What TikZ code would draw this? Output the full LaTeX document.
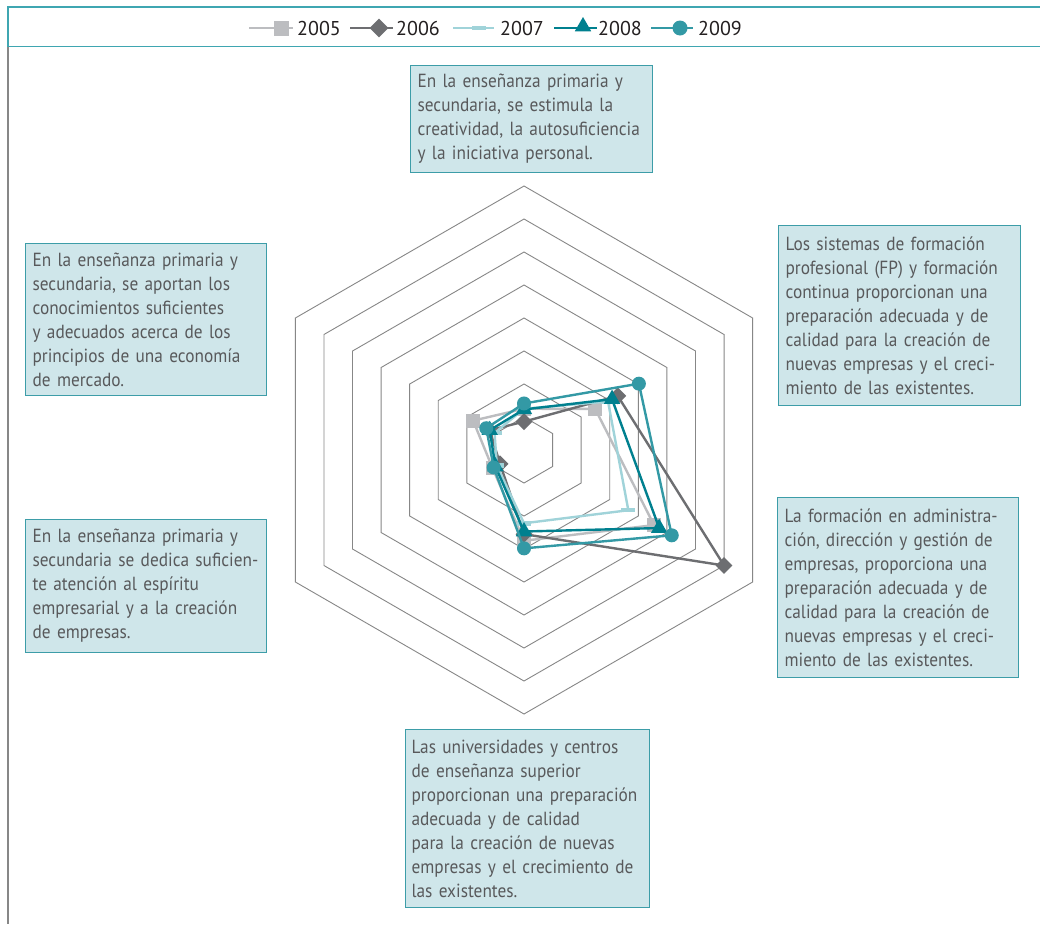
\documentclass[tikz,border=0pt]{standalone}
\usepackage{fontspec}
\setmainfont{PT Sans}
\newfontfamily\boxfam{PT Sans}[FakeStretch=0.91]
\usetikzlibrary{shapes.geometric,calc}
\definecolor{c05}{HTML}{BCBDC0}
\definecolor{c06}{HTML}{6D6E71}
\definecolor{c07}{HTML}{A0D3D9}
\definecolor{c08}{HTML}{00808F}
\definecolor{c09}{HTML}{3399A5}
\definecolor{framec}{HTML}{3FA6B1}
\definecolor{boxfill}{HTML}{CFE6EA}
\definecolor{boxline}{HTML}{3D9DA8}
\definecolor{txt}{HTML}{58595B}
\definecolor{legc}{HTML}{231F20}
\definecolor{gridc}{HTML}{878787}
\newcommand\boxfont{\boxfam\fontsize{19}{24}\selectfont\hyphenpenalty=10000\exhyphenpenalty=10000}
\newcommand\legfont{\fontsize{20}{24}\selectfont}
\newcommand\radarseries[4]{%
  \foreach \v [count=\i] in {#4} {
    \pgfmathsetmacro\ang{-150+60*\i}
    \pgfmathsetmacro\rad{\v*33}
    \coordinate (#1-\i) at ($(C)+(\ang:\rad)$);
  }
  \draw[ser, #2] (#1-1) -- (#1-2) -- (#1-3) -- (#1-4) -- (#1-5) -- (#1-6) -- cycle;
  \foreach \i in {1,...,6} { \node[#3] (#1-m\i) at (#1-\i) {}; }
}
\begin{document}
\begin{tikzpicture}[x=1pt,y=-1pt,
  gridline/.style={draw=gridc, line width=0.9pt},
  ser/.style={line width=2.4pt, line join=round},
  mk05/.style={rectangle, fill=c05, minimum size=14pt, inner sep=0pt},
  mk06/.style={diamond, fill=c06, minimum size=17pt, inner sep=0pt},
  mk07/.style={rectangle, fill=c07, minimum width=14pt, minimum height=4.5pt, inner sep=0pt},
  mk08/.style={regular polygon, regular polygon sides=3, fill=c08, minimum size=19pt, inner sep=0pt},
  mk09/.style={circle, fill=c09, minimum size=14pt, inner sep=0pt},
  infobox/.style={draw=boxline, fill=boxfill, line width=1.2pt, text=txt, align=left, anchor=north west, inner xsep=7pt, inner ysep=0pt, font=\boxfont},
  legtext/.style={anchor=west, text=legc, font=\legfont, inner sep=0pt},
  legline/.style={line width=2.4pt},
]
\path[use as bounding box] (0,0) rectangle (1040,924);
\fill[white] (0,0) rectangle (1040,924);

% frame
\draw[framec, line width=1.5pt] (1040,7) -- (8,7) -- (8,46.5) -- (1040,46.5);
\draw[gridc, line width=1.5pt] (8,46.5) -- (8,924);

% legend
\draw[legline, c05] (249,28) -- (293,28);
\node[mk05, minimum size=15pt] (l05m) at (281,28) {};
\node[legtext] (l05) at (297,28.5) {2005};
\draw[legline, c06] (350,28) -- (393,28);
\node[mk06, minimum size=19pt] (l06m) at (379,28) {};
\node[legtext] (l06) at (396,28.5) {2006};
\draw[legline, c07] (453,28) -- (494,28);
\node[mk07] (l07m) at (479,28) {};
\node[legtext] (l07) at (500,28.5) {2007};
\draw[legline, c08] (554,28) -- (597,28);
\node[mk08] (l08m) at (583,26.5) {};
\node[legtext] (l08) at (598,28.5) {2008};
\draw[legline, c09] (651,28) -- (693,28);
\node[mk09, minimum size=15pt] (l09m) at (680,28) {};
\node[legtext] (l09) at (698,28.5) {2009};

% radar grid
\coordinate (C) at (524,450);
\foreach \k in {1,...,8} {
  \pgfmathsetmacro\r{\k*33}
  \draw[gridline] ($(C)+(-90:\r)$) -- ($(C)+(-30:\r)$) -- ($(C)+(30:\r)$) -- ($(C)+(90:\r)$) -- ($(C)+(150:\r)$) -- ($(C)+(210:\r)$) -- cycle;
}

% data series
\radarseries{s05}{c05}{mk05}{1.25,2.49,4.55,2.75,1.10,1.78}
\radarseries{s06}{c06}{mk06}{0.86,3.28,7.00,2.55,0.84,1.20}
\radarseries{s07}{c07}{mk07}{1.25,2.94,3.65,2.22,0.95,1.03}
\radarseries{s08}{c08}{mk08}{1.23,3.08,4.73,2.47,1.00,1.20}
\radarseries{s09}{c09}{mk09}{1.41,4.02,5.17,2.98,1.06,1.32}

% text boxes
\node[infobox, text width=228pt, minimum height=107pt] (b1) at (410,65)
 {En la enseñanza primaria y\\secundaria, se estimula la\\creatividad, la autosuficiencia\\y la iniciativa personal.};
\node[infobox, text width=228pt, minimum height=180pt] (b2) at (778,225)
 {Los sistemas de formación\\profesional (FP) y formación\\continua proporcionan una\\preparación adecuada y de\\calidad para la creación de\\nuevas empresas y el creci-\\miento de las existentes.};
\node[infobox, text width=227pt, minimum height=180pt] (b3) at (777,497)
 {La formación en administra-\\ción, dirección y gestión de\\empresas, proporciona una\\preparación adecuada y de\\calidad para la creación de\\nuevas empresas y el creci-\\miento de las existentes.};
\node[infobox, inner xsep=6pt, text width=232pt, minimum height=178pt] (b4) at (405,729)
 {Las universidades y centros\\de enseñanza superior\\proporcionan una preparación\\adecuada y de calidad\\para la creación de nuevas\\empresas y el crecimiento de\\las existentes.};
\node[infobox, text width=227pt, minimum height=152pt] (b5) at (25,243)
 {En la enseñanza primaria y\\secundaria, se aportan los\\conocimientos suficientes\\y adecuados acerca de los\\principios de una economía\\de mercado.};
\node[infobox, text width=227pt, minimum height=133pt] (b6) at (25,519)
 {En la enseñanza primaria y\\secundaria se dedica suficien-\\te atención al espíritu\\empresarial y a la creación\\de empresas.};
\end{tikzpicture}
\end{document}
